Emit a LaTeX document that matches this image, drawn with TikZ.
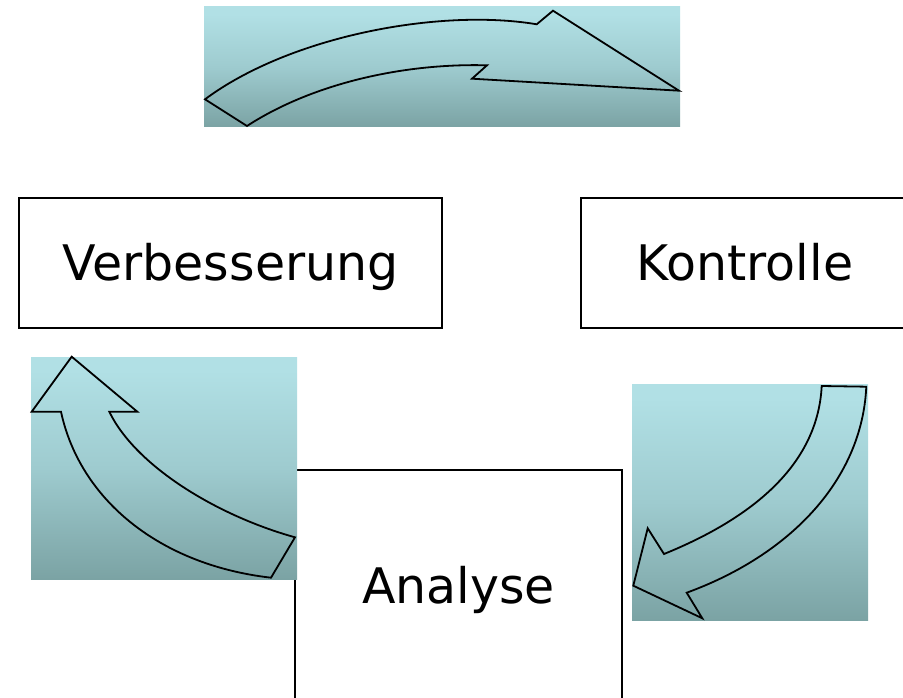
\documentclass[tikz,border=0pt]{standalone}
\usepackage{fontspec}
\setmainfont{DejaVu Sans}

% panel gradient: light cyan at the top, grey teal at the bottom
\definecolor{paneltop}{RGB}{177,224,229}
\definecolor{panelmid}{RGB}{158,203,207}
\definecolor{panelbot}{RGB}{123,163,164}
\pgfdeclareverticalshading{panelshade}{100bp}{%
  color(0bp)=(panelbot); color(25bp)=(panelbot); color(50bp)=(panelmid);
  color(72bp)=(paneltop); color(75bp)=(paneltop); color(100bp)=(paneltop)}

\tikzset{
  stagebox/.style={draw=black, line width=1.6pt, fill=white, inner sep=0pt,
    outer sep=0pt, text height=35.7pt, text depth=0pt,
    font=\fontsize{49pt}{58pt}\selectfont},
  panel/.style={shading=panelshade, draw=none},
  arrowline/.style={draw=black, line width=1.8pt, line join=miter},
}

\begin{document}
\begin{tikzpicture}[x=1pt, y=-1pt]
  \useasboundingbox (0,0) rectangle (903,698);
  \clip (0,0) rectangle (903,698);
  \fill[white] (0,0) rectangle (903,698);

  % the three stages of the cycle
  \node[stagebox, minimum width=423pt, minimum height=130pt] (verb) at (230.6,263) {Verbesserung};
  \node[stagebox, minimum width=328pt, minimum height=130pt] (kontr) at (745,263) {Kontrolle};
  \node[stagebox, minimum width=327pt, minimum height=231pt] (anal) at (458.5,585.5) {Analyse};

  % top panel: curved arrow pointing right
  \path[panel] (204,7) rectangle (680,127);
  \draw[arrowline]
    (205,99.3) .. controls (290,36) and (440,8) .. (536.7,24.3)
    -- (553,10.7) -- (679,90.7) -- (472,78.7) -- (487,65.3)
    .. controls (400,63) and (310,85) .. (247,126)
    -- cycle;

  % left panel: curved arrow pointing up
  \path[panel] (31,357) rectangle (297,579);
  \draw[arrowline]
    (71.7,356.7) -- (31.7,411.7) -- (61,411.7)
    .. controls (80,500) and (160,565) .. (271,577.7)
    -- (295,537.3)
    .. controls (215,515) and (135,465) .. (109.3,411.7)
    -- (137.3,411.7) -- cycle;

  % right panel: curved arrow pointing down-left
  \path[panel] (632,384) rectangle (868,620);
  \draw[arrowline]
    (821.7,386) -- (866.3,386.7)
    .. controls (862,480) and (790,555) .. (686.7,592.7)
    -- (702.3,618.3) -- (633.3,585.7) -- (647.7,528.3) -- (664,554)
    .. controls (760,515) and (818,460) .. (821.7,386)
    -- cycle;
\end{tikzpicture}
\end{document}
